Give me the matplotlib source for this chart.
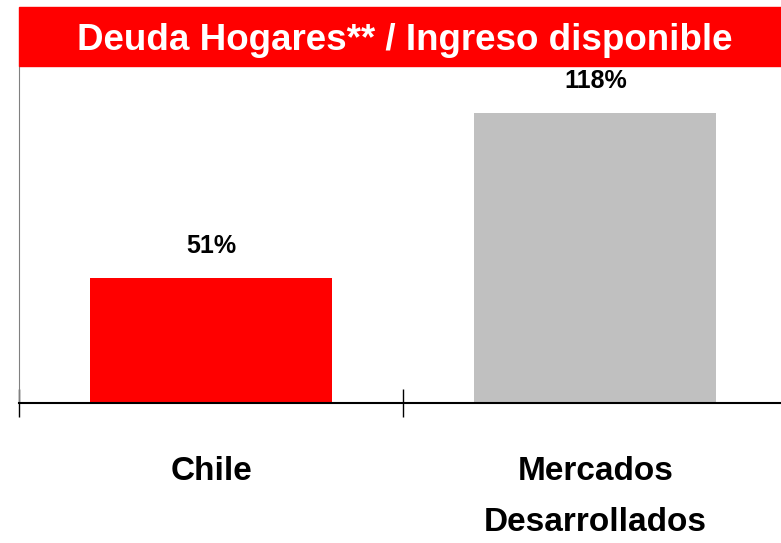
import numpy as np
import matplotlib.pyplot as plt
from matplotlib.patches import Rectangle

categories = ['Chile', 'Mercados\nDesarrollados']
values = [51, 118]
labels = ['51%', '118%']
colors = ['#ff0000', '#c0c0c0']
title = 'Deuda Hogares** / Ingreso disponible'

narrow = ['Liberation Sans Narrow', 'Liberation Sans', 'DejaVu Sans']

W, H = 781, 543
fig = plt.figure(figsize=(W / 100, H / 100), dpi=100)
# axes spans past right edge like the original slide
ax = fig.add_axes([19 / W, (H - 403) / H, 768.5 / W, (403 - 66) / H])

x = np.arange(len(categories))
ax.bar(x, values, width=0.63, color=colors, zorder=2)
ax.set_xlim(-0.5, 1.5)
ax.set_ylim(0, 137)

for xi, v, lab in zip(x, values, labels):
    ax.annotate(lab, (xi, v), xytext=(0, 23), textcoords='offset points',
                ha='center', va='center', fontsize=18, fontweight='bold',
                family=narrow)

ax.spines['top'].set_visible(False)
ax.spines['right'].set_visible(False)
ax.spines['left'].set_color('#808080')
ax.spines['bottom'].set_color('black')
ax.spines['bottom'].set_linewidth(1.5)
ax.set_yticks([])

ax.set_xticks(x)
ax.set_xticklabels(categories, fontsize=24, fontweight='bold', family=narrow,
                   linespacing=1.85)
ax.tick_params(axis='x', which='major', length=0, pad=38)
ax.set_xticks([-0.5, 0.5, 1.5], minor=True)
ax.tick_params(axis='x', which='minor', length=20, direction='inout', width=1)

# red title banner
fig.patches.append(Rectangle((19 / W, (H - 66) / H), 1 - 19 / W, 59 / H,
                             transform=fig.transFigure, color='#ff0000',
                             zorder=5))
fig.text(405 / W, (H - 40) / H, title, color='white', fontsize=26.5,
         fontweight='bold', family=['Liberation Sans', 'DejaVu Sans'],
         ha='center', va='center', zorder=6)

fig.savefig('out.png', dpi=100)
